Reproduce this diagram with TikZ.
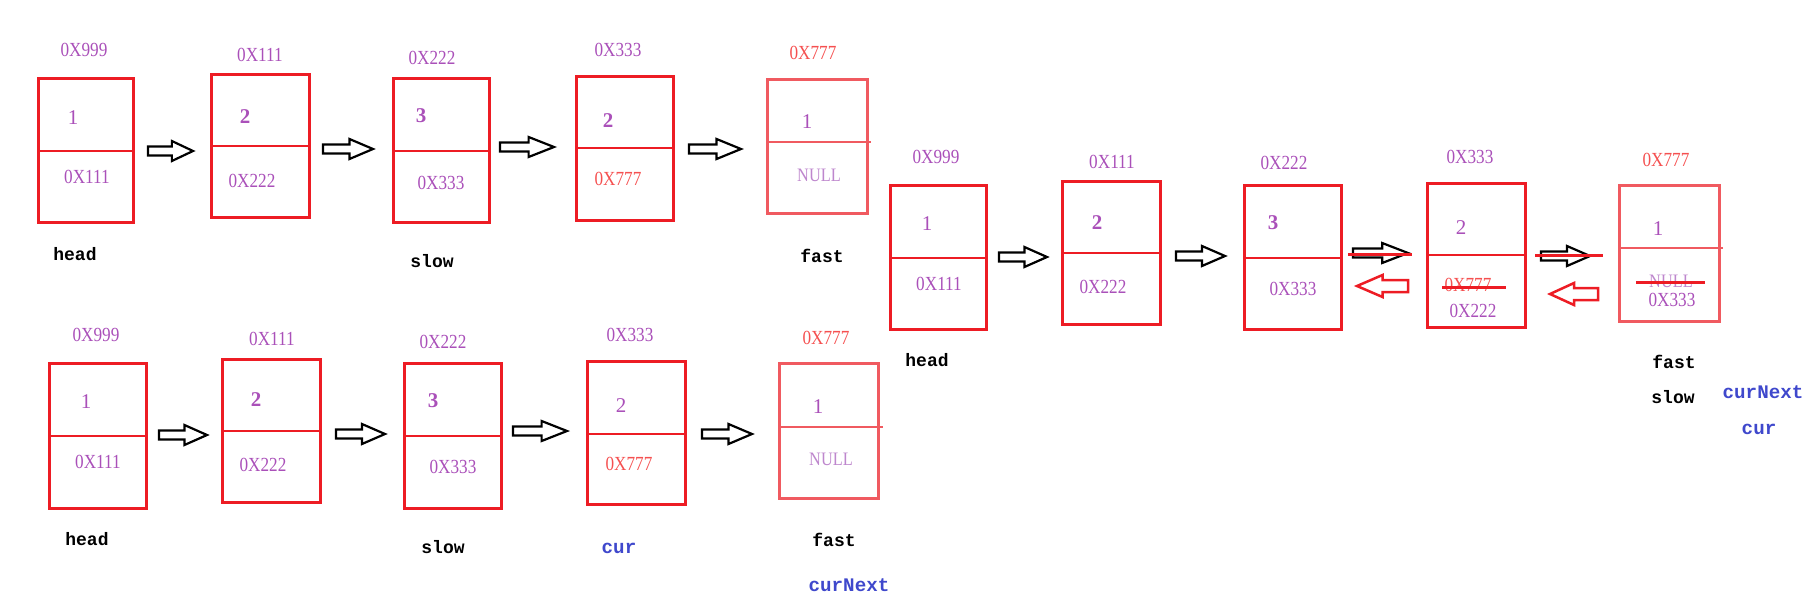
\documentclass[tikz,border=0pt]{standalone}
\usepackage{fontspec}
\setmainfont{Liberation Serif}
\newfontfamily\addrfont{Liberation Serif}[FakeStretch=0.86]
\newfontfamily\labfont{Liberation Mono}
\usetikzlibrary{fit}
\definecolor{boxred}{RGB}{237,28,36}
\definecolor{lightred}{RGB}{240,90,96}
\definecolor{addrpur}{RGB}{170,80,185}
\definecolor{addrred}{RGB}{245,80,80}
\definecolor{nullpur}{RGB}{190,135,205}
\definecolor{ptrblue}{RGB}{63,72,204}
\tikzset{
  pics/rarr/.style={code={\draw[blockline] (0,-4.5)--(0.53*#1,-4.5)--(0.53*#1,-10)--(#1,0)--(0.53*#1,10)--(0.53*#1,4.5)--(0,4.5)--cycle;}},
  pics/larr/.style={code={\draw[redblock] (0,0)--(0.5*#1,-11)--(0.5*#1,-6)--(#1,-6)--(#1,6)--(0.5*#1,6)--(0.5*#1,11)--cycle;}},
}
\begin{document}
\begin{tikzpicture}[x=0.5pt,y=-0.5pt,
  cell/.style={draw=boxred, line width=1.5pt, inner sep=0pt},
  lightcell/.style={draw=lightred, line width=1.5pt, inner sep=0pt},
  divider/.style={draw=boxred, line width=1.1pt},
  lightdiv/.style={draw=lightred, line width=1.4pt},
  strike/.style={draw=boxred, line width=1.5pt},
  blockline/.style={draw=black, line width=1.1pt, line join=miter},
  redblock/.style={draw=boxred, line width=1.25pt, line join=miter},
  addr/.style={text=addrpur, inner sep=0pt, font=\addrfont\fontsize{10}{10}\selectfont},
  addrr/.style={text=addrred, inner sep=0pt, font=\addrfont\fontsize{10}{10}\selectfont},
  nullt/.style={text=nullpur, inner sep=0pt, font=\addrfont\fontsize{9.5}{10}\selectfont},
  val/.style={text=addrpur, inner sep=0pt, font=\fontsize{10.5}{10}\selectfont},
  valb/.style={text=addrpur, inner sep=0pt, font=\bfseries\fontsize{10.5}{10}\selectfont},
  ptr/.style={text=black, inner sep=0pt, font=\labfont\bfseries\fontsize{9}{10}\selectfont},
  bptr/.style={text=ptrblue, inner sep=0pt, font=\labfont\bfseries\fontsize{9.6}{10}\selectfont},
]
\useasboundingbox (0,0) rectangle (1810,605);

% ================= top row =================
\node[cell, fit={(38,78)(133,222)}] (ta) {};
\draw[divider] (38,151) -- (133,151);
\node[addr] (taa) at (84,50) {0X999};
\node[val] (tav) at (73,118) {1};
\node[addr] (tan) at (87,177) {0X111};
\node[ptr] (thead) at (75,254) {head};
\pic at (148,151) {rarr=45};

\node[cell, fit={(211,74)(309,217)}] (tb) {};
\draw[divider] (211,146) -- (309,146);
\node[addr] (tba) at (260,55) {0X111};
\node[valb] (tbv) at (245,117) {2};
\node[addr] (tbn) at (252,181) {0X222};
\pic at (323,149) {rarr=50};

\node[cell, fit={(393,78)(489,222)}] (tc) {};
\draw[divider] (393,151) -- (489,151);
\node[addr] (tca) at (432,58) {0X222};
\node[valb] (tcv) at (421,116) {3};
\node[addr] (tcn) at (441,183) {0X333};
\node[ptr] (tslow) at (432,261) {slow};
\pic at (500,147) {rarr=54};

\node[cell, fit={(576,76)(673,220)}] (td) {};
\draw[divider] (576,148) -- (673,148);
\node[addr] (tda) at (618,50) {0X333};
\node[valb] (tdv) at (608,121) {2};
\node[addrr] (tdn) at (618,179) {0X777};
\pic at (689,149) {rarr=52};

\node[lightcell, fit={(767,79)(867,213)}] (te) {};
\draw[lightdiv] (767,142) -- (871,142);
\node[addrr] (tea) at (813,53) {0X777};
\node[val] (tev) at (807,122) {1};
\node[nullt] (ten) at (819,175) {NULL};
\node[ptr] (tfast) at (822,256) {fast};

% ================= right group =================
\node[cell, fit={(890,185)(986,329)}] (ma) {};
\draw[divider] (890,258) -- (986,258);
\node[addr] (maa) at (936,157) {0X999};
\node[val] (mav) at (927,224) {1};
\node[addr] (man) at (939,284) {0X111};
\node[ptr] (mhead) at (927,360) {head};
\pic at (999,257) {rarr=48};

\node[cell, fit={(1062,181)(1160,324)}] (mb) {};
\draw[divider] (1062,253) -- (1160,253);
\node[addr] (mba) at (1112,162) {0X111};
\node[valb] (mbv) at (1097,223) {2};
\node[addr] (mbn) at (1103,287) {0X222};
\pic at (1176,256) {rarr=49};

\node[cell, fit={(1244,185)(1341,329)}] (mc) {};
\draw[divider] (1244,258) -- (1341,258);
\node[addr] (mca) at (1284,163) {0X222};
\node[valb] (mcv) at (1273,223) {3};
\node[addr] (mcn) at (1293,289) {0X333};
\pic at (1353,253) {rarr=55};
\draw[strike] (1348,254) -- (1412,254);
\pic at (1357,286) {larr=51};

\node[cell, fit={(1427,183)(1525,327)}] (md) {};
\draw[divider] (1427,255) -- (1525,255);
\node[addr] (mda) at (1470,157) {0X333};
\node[val] (mdv) at (1461,228) {2};
\node[addrr] (mdn) at (1468,285) {0X777};
\draw[strike] (1442,287) -- (1506,287);
\node[addr] (mdn2) at (1473,311) {0X222};
\pic at (1541,256) {rarr=49};
\draw[strike] (1535,255) -- (1603,255);
\pic at (1550,294) {larr=48};

\node[lightcell, fit={(1619,185)(1719,321)}] (me) {};
\draw[lightdiv] (1619,248) -- (1723,248);
\node[addrr] (mea) at (1666,160) {0X777};
\node[val] (mev) at (1658,229) {1};
\node[nullt] (men) at (1671,281) {NULL};
\draw[strike] (1636,282) -- (1705,282);
\node[addr] (men2) at (1672,300) {0X333};
\node[ptr] (mfast) at (1674,362) {fast};
\node[ptr] (mslow) at (1673,397) {slow};
\node[bptr] (mcurnext) at (1763,392) {curNext};
\node[bptr] (mcur) at (1759,429) {cur};

% ================= bottom row =================
\node[cell, fit={(49,363)(146,508)}] (ba) {};
\draw[divider] (49,436) -- (146,436);
\node[addr] (baa) at (96,335) {0X999};
\node[val] (bav) at (86,402) {1};
\node[addr] (ban) at (98,462) {0X111};
\node[ptr] (bhead) at (87,539) {head};
\pic at (159,435) {rarr=48};

\node[cell, fit={(222,359)(320,502)}] (bb) {};
\draw[divider] (222,431) -- (320,431);
\node[addr] (bba) at (272,339) {0X111};
\node[valb] (bbv) at (256,400) {2};
\node[addr] (bbn) at (263,465) {0X222};
\pic at (336,434) {rarr=49};

\node[cell, fit={(404,363)(501,508)}] (bc) {};
\draw[divider] (404,436) -- (501,436);
\node[addr] (bca) at (443,342) {0X222};
\node[valb] (bcv) at (433,401) {3};
\node[addr] (bcn) at (453,467) {0X333};
\node[ptr] (bslow) at (443,547) {slow};
\pic at (513,431) {rarr=54};

\node[cell, fit={(587,361)(685,504)}] (bd) {};
\draw[divider] (587,434) -- (685,434);
\node[addr] (bda) at (630,335) {0X333};
\node[val] (bdv) at (621,406) {2};
\node[addrr] (bdn) at (629,464) {0X777};
\node[bptr] (bcur) at (619,548) {cur};
\pic at (702,434) {rarr=50};

\node[lightcell, fit={(779,363)(878,498)}] (be) {};
\draw[lightdiv] (779,427) -- (883,427);
\node[addrr] (bea) at (826,338) {0X777};
\node[val] (bev) at (818,407) {1};
\node[nullt] (ben) at (831,459) {NULL};
\node[ptr] (bfast) at (834,540) {fast};
\node[bptr] (bcurnext) at (849,585) {curNext};
\end{tikzpicture}
\end{document}
